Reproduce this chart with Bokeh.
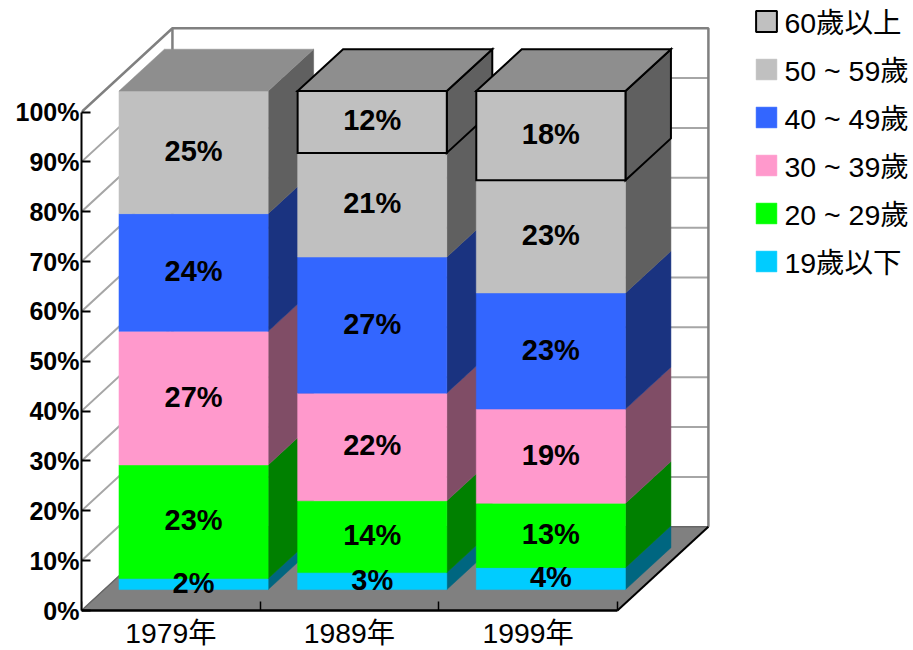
from bokeh.core.properties import value
from bokeh.embed import file_html
from bokeh.models import ColumnDataSource, FixedTicker, Legend, LegendItem, Range1d
from bokeh.plotting import figure
from bokeh.resources import INLINE

# Share of each age group per survey year (percent)
years = ["1979年", "1989年", "1999年"]
under_20 = [2.2, 3.4, 4.4]
age_20s = [22.8, 14.4, 12.9]
age_30s = [26.8, 21.6, 18.9]
age_40s = [23.6, 27.3, 23.3]
age_50s = [24.6, 20.9, 22.6]
over_60 = [0.0, 12.4, 17.9]

group_names = ["19歲以下", "20 ~ 29歲", "30 ~ 39歲", "40 ~ 49歲", "50 ~ 59歲", "60歲以上"]
group_values = [under_20, age_20s, age_30s, age_40s, age_50s, over_60]
front_colors = ["#00ccff", "#00ff00", "#ff99cc", "#3366ff", "#c0c0c0", "#c0c0c0"]
side_colors = ["#006680", "#008000", "#804d66", "#1a3380", "#606060", "#606060"]
outlined = [False, False, False, False, False, True]

y_ticks = list(range(0, 101, 10))
TOP_COLOR = "#8e8e8e"
FLOOR_COLOR = "#808080"
WALL_COLOR = "#808080"
GRID_COLOR = "#a6a6a6"
FONT = "Liberation Sans, Noto Sans CJK TC"

# Oblique projection: how far the back of the box sits from the front, in axis units
DEPTH_X = 0.509
DEPTH_Y = 16.8
BAR_WIDTH = 0.835
NEAR = 0.25
FAR = 0.75


def project(x, y, depth):
    return x + depth * DEPTH_X, y + depth * DEPTH_Y


def face(corners):
    xs, ys = zip(*[project(*c) for c in corners])
    return list(xs), list(ys)


# The plot area runs to the bottom of the page; the category names sit under the zero line
p = figure(
    width=913, height=650, output_backend="svg", toolbar_location=None,
    x_range=Range1d(0, 4.657), y_range=Range1d(-8.024, 122.37),
    min_border_left=81, min_border_right=0, min_border_top=0, min_border_bottom=0,
    background_fill_color="white", border_fill_color="white", outline_line_color=None,
)
p.grid.visible = False

# Floor of the box
n = len(years)
fx, fy = face([(0, 0, 0), (n, 0, 0), (n, 0, 1), (0, 0, 1)])
p.patch(fx, fy, fill_color=FLOOR_COLOR, line_color=FLOOR_COLOR, line_width=1)

# Gridlines running across the left and back walls
grid_xs, grid_ys = [], []
for t in y_ticks[1:-1]:
    gx, gy = face([(0, t, 0), (0, t, 1), (n, t, 1)])
    grid_xs.append(gx)
    grid_ys.append(gy)
p.multi_line(grid_xs, grid_ys, line_color=GRID_COLOR, line_width=2)

# Outline of the walls
wx, wy = face([(0, 100, 0), (0, 100, 1), (n, 100, 1), (n, 0, 1)])
p.line(wx, wy, line_color=WALL_COLOR, line_width=2.5)
wx, wy = face([(0, 100, 1), (0, 0, 1)])
p.line(wx, wy, line_color=WALL_COLOR, line_width=2.5)
wx, wy = face([(0, 0, 0), (0, 0, 1), (n, 0, 1)])
p.line(wx, wy, line_color="#666666", line_width=1.5)
wx, wy = face([(n, 0, 0), (n, 0, 1)])
p.line(wx, wy, line_color="black", line_width=2)

# Stacked bars, drawn left to right so each front hides its neighbour's side
patch_xs, patch_ys, fills, edges, widths = [], [], [], [], []
label_x, label_y, label_text = [], [], []


def add_face(corners, fill, has_outline):
    fxs, fys = face(corners)
    patch_xs.append(fxs)
    patch_ys.append(fys)
    fills.append(fill)
    edges.append("black" if has_outline else fill)
    widths.append(2 if has_outline else 0.5)


for i in range(n):
    left = i + 0.5 - BAR_WIDTH / 2
    right = i + 0.5 + BAR_WIDTH / 2
    base = 0.0
    for g, vals in enumerate(group_values):
        v = vals[i]
        if v <= 0:
            continue
        top = base + v
        edge = outlined[g]
        add_face([(right, base, NEAR), (right, base, FAR), (right, top, FAR), (right, top, NEAR)],
                 side_colors[g], edge)
        add_face([(left, base, NEAR), (right, base, NEAR), (right, top, NEAR), (left, top, NEAR)],
                 front_colors[g], edge)
        lx, ly = project(i + 0.5, base + v / 2, NEAR)
        label_x.append(lx)
        label_y.append(ly)
        label_text.append(f"{v:.0f}%")
        base = top
        last_edge = edge
    add_face([(left, base, NEAR), (right, base, NEAR), (right, base, FAR), (left, base, FAR)],
             TOP_COLOR, last_edge)

p.patches(
    "xs", "ys",
    source=ColumnDataSource(dict(xs=patch_xs, ys=patch_ys, fill=fills, edge=edges, width=widths)),
    fill_color="fill", line_color="edge", line_width="width", line_join="miter",
)

p.text(
    label_x, label_y, text=label_text, y_offset=-1.5,
    text_font=value(FONT), text_font_style="bold", text_font_size="29px",
    text_align="center", text_baseline="middle", text_color="black",
)

# Value axis, limited to the front edge of the box
yaxis = p.yaxis[0]
yaxis.bounds = (0, 100)
yaxis.ticker = FixedTicker(ticks=y_ticks)
yaxis.major_label_overrides = {t: f"{t}%" for t in y_ticks}
yaxis.axis_line_color = "black"
yaxis.axis_line_width = 2
yaxis.major_tick_line_color = "black"
yaxis.major_tick_line_width = 2
yaxis.major_tick_in = 9
yaxis.major_tick_out = 0
yaxis.minor_tick_line_color = None
yaxis.major_label_standoff = 2
yaxis.major_label_text_font = FONT
yaxis.major_label_text_font_style = "bold"
yaxis.major_label_text_font_size = "25px"
yaxis.major_label_text_color = "black"

# Category axis pinned to the zero line: labels sit mid-category, tick marks between categories
centers = [i + 0.5 for i in range(n)]
xaxis = p.xaxis[0]
xaxis.fixed_location = 0
xaxis.bounds = (0, n)
xaxis.ticker = FixedTicker(ticks=centers, minor_ticks=list(range(n + 1)))
xaxis.major_label_overrides = dict(zip(centers, years))
xaxis.axis_line_color = "black"
xaxis.axis_line_width = 2.5
xaxis.major_tick_line_color = None
xaxis.major_tick_in = 0
xaxis.major_tick_out = 0
xaxis.minor_tick_line_color = "black"
xaxis.minor_tick_line_width = 1.5
xaxis.minor_tick_in = 9
xaxis.minor_tick_out = 0
xaxis.major_label_standoff = 6
xaxis.major_label_text_font = FONT
xaxis.major_label_text_font_size = "28.3px"
xaxis.major_label_text_color = "black"

# Legend, oldest group first; the swatch renderers hold a blank row and draw nothing on the plot
nan = float("nan")
items = []
for g in reversed(range(len(group_names))):
    swatch = p.quad(
        left=[nan], right=[nan], top=[nan], bottom=[nan],
        fill_color=front_colors[g],
        line_color="black" if outlined[g] else front_colors[g],
        line_width=2 if outlined[g] else 0.5,
    )
    items.append(LegendItem(label=group_names[g], renderers=[swatch]))

legend = Legend(
    items=items, location=(672.4, 369), orientation="vertical",
    background_fill_alpha=0, border_line_color=None,
    margin=0, padding=0, spacing=7,
    glyph_width=26, glyph_height=26, label_standoff=5, label_height=32,
    label_text_font=FONT, label_text_font_size="28.5px", label_text_color="black",
)
p.add_layout(legend, "center")

open("out.html", "w").write(file_html(p, INLINE))
